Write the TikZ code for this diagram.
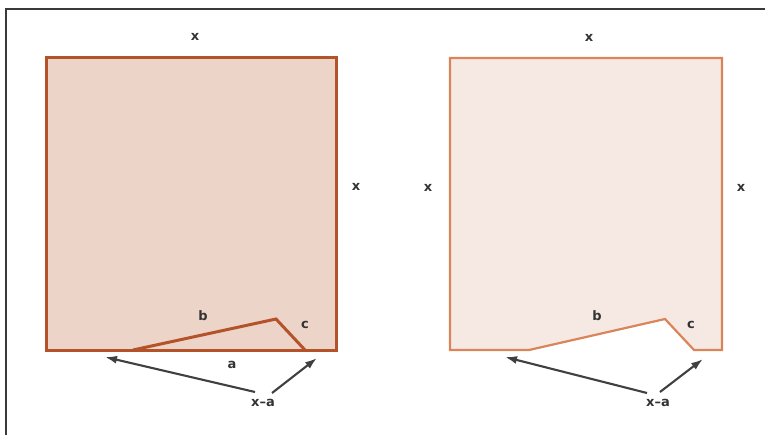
\documentclass[tikz,border=0pt]{standalone}
\usepackage{fontspec}
\setmainfont{DejaVu Sans}
\usetikzlibrary{arrows.meta}
\definecolor{darkedge}{HTML}{B4532A}
\definecolor{darkfill}{HTML}{EDD4C9}
\definecolor{lightedge}{HTML}{DA8459}
\definecolor{lightfill}{HTML}{F6E9E3}
\definecolor{framegray}{HTML}{3A3A3A}
\definecolor{txt}{HTML}{333333}
\definecolor{arrowgray}{HTML}{404040}
\tikzset{
  lbl/.style={text=txt, font=\fontsize{13}{15}\selectfont\bfseries, inner sep=0pt},
  pointer/.style={draw=arrowgray, line width=2.1pt, -{Latex[length=12pt,width=8pt]}},
}
\begin{document}
\begin{tikzpicture}[x=1pt,y=-1pt]
\useasboundingbox (0,0) rectangle (765,435);
% frame
\draw[framegray, line width=2pt] (6,440) -- (6,9) -- (770,9);
% left square
\draw[darkedge, fill=darkfill, line width=3pt, line join=miter]
  (46,58) -- (336,58) -- (336,350) -- (46,350) -- cycle;
\coordinate (lb) at (133,350);
\coordinate (lp) at (276,319);
\coordinate (lc) at (305,350);
\draw[darkedge, line width=3pt, line join=miter] (lb) -- (lp) -- (lc);
% right shape
\draw[lightedge, fill=lightfill, line width=2.2pt, line join=miter]
  (450,58) -- (722,58) -- (722,350) -- (694,350) -- (665,319) -- (529,350) -- (450,350) -- cycle;
% labels left
\node[lbl] (lx1) at (195,37) {x};
\node[lbl] (lx2) at (356,187) {x};
\node[lbl] (lbb) at (203,316) {b};
\node[lbl] (lcc) at (305,325) {c};
\node[lbl] (laa) at (232,365) {a};
\node[lbl] (lxa) at (263,403) {x–a};
\coordinate (la1) at (105,357);
\coordinate (la2) at (317,358);
\coordinate (lt1) at (255,392);
\coordinate (lt2) at (272,393);
\draw[pointer] (lt1) -- (la1);
\draw[pointer] (lt2) -- (la2);
% labels right
\node[lbl] (rx1) at (589,38) {x};
\node[lbl] (rx2) at (428,188) {x};
\node[lbl] (rx3) at (741,188) {x};
\node[lbl] (rbb) at (597,316) {b};
\node[lbl] (rcc) at (691,325) {c};
\node[lbl] (rxa) at (658,403) {x–a};
\coordinate (ra1) at (505,357);
\coordinate (ra2) at (703,359);
\coordinate (rt1) at (647,393);
\coordinate (rt2) at (660,392);
\draw[pointer] (rt1) -- (ra1);
\draw[pointer] (rt2) -- (ra2);
\end{tikzpicture}
\end{document}
